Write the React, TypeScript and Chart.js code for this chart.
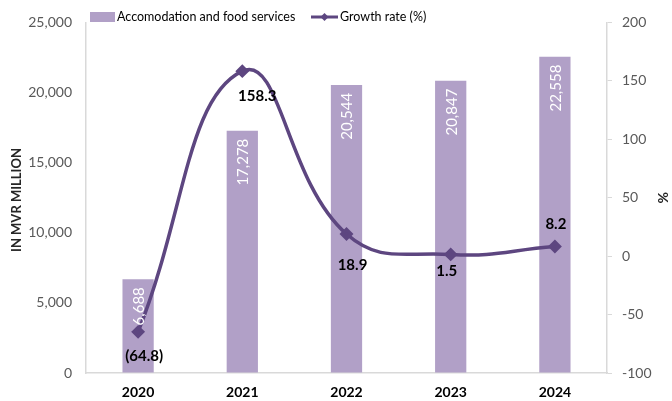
import React, { useEffect, useRef } from "react";
import { Chart, registerables } from "chart.js";

Chart.register(...registerables);

const years = ["2020", "2021", "2022", "2023", "2024"];
const valueAdded = [6688, 17278, 20544, 20847, 22558];
const growthRate = [-64.8, 158.3, 18.9, 1.5, 8.2];
const growthLabels = ["(64.8)", "158.3", "18.9", "1.5", "8.2"];
const leftTicks = { min: 0, max: 25000, step: 5000 };
const rightTicks = { min: -100, max: 200, step: 50 };

const BAR_COLOR = "#B1A0C7";
const LINE_COLOR = "#5D4680";
const AXIS_COLOR = "#D9D9D9";
const TICK_COLOR = "#595959";
const FONT = "Lato, 'Open Sans', sans-serif";

// label placement config (style, not data)
const lineLabelPlacement = [
  { dx: 6, dy: 24 },
  { dx: 15, dy: 25 },
  { dx: 6, dy: 31 },
  { dx: -4, dy: 17 },
  { dx: 1, dy: -22 },
];

const overlayPlugin = {
  id: "overlay",
  afterDatasetsDraw(chart: any) {
    const ctx = chart.ctx;
    const area = chart.chartArea;
    // bar labels
    const barMeta = chart.getDatasetMeta(0);
    ctx.save();
    ctx.fillStyle = "#FFFFFF";
    ctx.font = `15px ${FONT}`;
    barMeta.data.forEach((el: any, i: number) => {
      ctx.save();
      ctx.translate(el.x, el.y + 8);
      ctx.rotate(-Math.PI / 2);
      ctx.textAlign = "right";
      ctx.textBaseline = "middle";
      ctx.fillText(valueAdded[i].toLocaleString("en-US"), 0, 1);
      ctx.restore();
    });
    ctx.restore();

    // line labels
    const lineMeta = chart.getDatasetMeta(1);
    ctx.save();
    ctx.fillStyle = "#000000";
    ctx.font = `bold 15px ${FONT}`;
    ctx.textAlign = "center";
    ctx.textBaseline = "middle";
    lineMeta.data.forEach((el: any, i: number) => {
      const p = lineLabelPlacement[i];
      ctx.fillText(growthLabels[i], el.x + p.dx, el.y + p.dy);
    });
    ctx.restore();

    // legend
    ctx.save();
    ctx.fillStyle = BAR_COLOR;
    ctx.fillRect(90, 12, 25, 10);
    ctx.fillStyle = "#000000";
    ctx.font = `12.5px ${FONT}`;
    ctx.textAlign = "left";
    ctx.textBaseline = "middle";
    ctx.fillText("Accomodation and food services", 117, 17);
    ctx.strokeStyle = LINE_COLOR;
    ctx.lineWidth = 3;
    ctx.beginPath();
    ctx.moveTo(311, 17);
    ctx.lineTo(338, 17);
    ctx.stroke();
    ctx.fillStyle = LINE_COLOR;
    ctx.beginPath();
    ctx.moveTo(324.5, 13);
    ctx.lineTo(328.5, 17);
    ctx.lineTo(324.5, 21);
    ctx.lineTo(320.5, 17);
    ctx.closePath();
    ctx.fill();
    ctx.fillStyle = "#000000";
    ctx.fillText("Growth rate (%)", 340, 17);
    ctx.restore();

    // axis titles
    ctx.save();
    ctx.fillStyle = "#262626";
    ctx.font = `bold 13px ${FONT}`;
    ctx.textAlign = "center";
    ctx.textBaseline = "middle";
    ctx.translate(17, 200);
    ctx.rotate(-Math.PI / 2);
    ctx.fillText("IN MVR MILLION", 0, 0);
    ctx.restore();

    ctx.save();
    ctx.fillStyle = "#262626";
    ctx.font = `bold 14px ${FONT}`;
    ctx.textAlign = "center";
    ctx.textBaseline = "middle";
    ctx.translate(663, (area.top + area.bottom) / 2);
    ctx.rotate(-Math.PI / 2);
    ctx.fillText("%", 0, 0);
    ctx.restore();
  },
};

export default function App() {
  const canvasRef = useRef<HTMLCanvasElement | null>(null);

  useEffect(() => {
    if (!canvasRef.current) return;
    const chart = new Chart(canvasRef.current, {
      type: "bar",
      data: {
        labels: years,
        datasets: [
          {
            type: "bar",
            label: "Accomodation and food services",
            data: valueAdded,
            backgroundColor: BAR_COLOR,
            yAxisID: "y",
            barPercentage: 0.3,
            categoryPercentage: 1,
            order: 2,
          },
          {
            type: "line",
            label: "Growth rate (%)",
            data: growthRate,
            borderColor: LINE_COLOR,
            backgroundColor: LINE_COLOR,
            borderWidth: 3.5,
            tension: 0.45,
            pointStyle: "rectRot",
            pointRadius: 4.5,
            pointHoverRadius: 4.5,
            yAxisID: "y1",
            order: 1,
          } as any,
        ],
      },
      options: {
        animation: false,
        responsive: true,
        maintainAspectRatio: false,
        layout: { padding: { top: 19, left: 0, right: 0, bottom: 0 } },
        plugins: { legend: { display: false }, tooltip: { enabled: false } },
        scales: {
          x: {
            grid: { display: false, drawTicks: false },
            border: { display: true, color: AXIS_COLOR, width: 1.5 },
            ticks: {
              color: "#000000",
              font: { family: FONT, size: 14, weight: "bold" },
              padding: 11,
            },
            afterFit(scale: any) {
              scale.height = 28;
            },
          },
          y: {
            position: "left",
            min: leftTicks.min,
            max: leftTicks.max,
            grid: { display: true, drawOnChartArea: false, drawTicks: false },
            border: { display: true, color: AXIS_COLOR, width: 1.5 },
            ticks: {
              stepSize: leftTicks.step,
              color: TICK_COLOR,
              font: { family: FONT, size: 14 },
              padding: 14,
              callback: (v: any) => Number(v).toLocaleString("en-US"),
            },
            afterFit(scale: any) {
              scale.width = 86;
            },
          },
          y1: {
            position: "right",
            min: rightTicks.min,
            max: rightTicks.max,
            grid: {
              display: true,
              drawOnChartArea: false,
              drawTicks: true,
              tickLength: 5,
              color: AXIS_COLOR,
            },
            border: { display: true, color: AXIS_COLOR, width: 1.5 },
            ticks: {
              stepSize: rightTicks.step,
              color: TICK_COLOR,
              font: { family: FONT, size: 14 },
              padding: 10,
            },
            afterFit(scale: any) {
              scale.width = 65;
            },
          },
        },
      } as any,
      plugins: [overlayPlugin],
    });
    return () => chart.destroy();
  }, []);

  return (
    <div style={{ position: "absolute", left: 0, top: 0, width: 672, height: 401 }}>
      <canvas ref={canvasRef} />
    </div>
  );
}
